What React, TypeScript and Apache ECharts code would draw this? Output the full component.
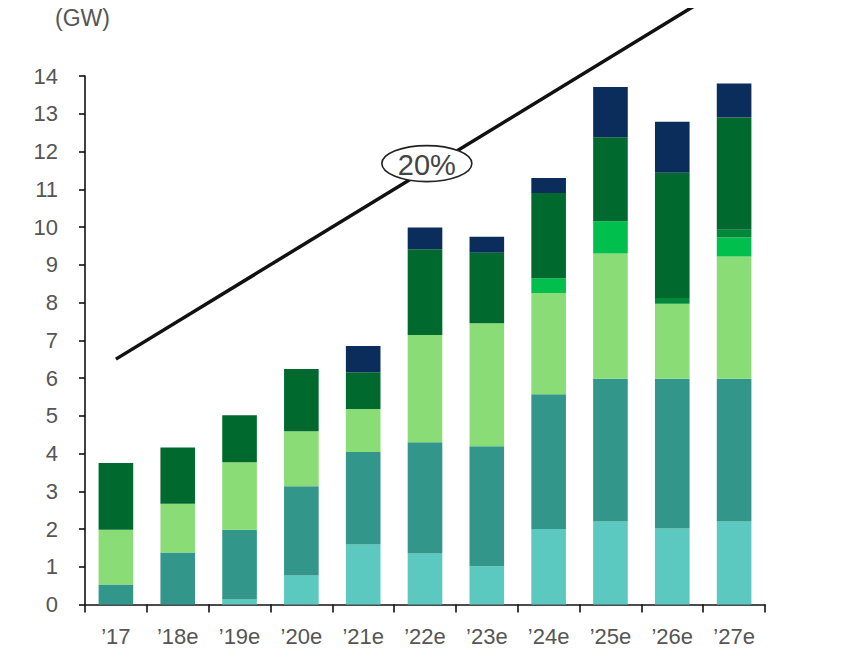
import React, { useEffect, useRef } from "react";
import * as echarts from "echarts";

const categories = ["’17", "’18e", "’19e", "’20e", "’21e", "’22e", "’23e", "’24e", "’25e", "’26e", "’27e"];
const lightTeal = [0, 0, 0.13, 0.77, 1.59, 1.35, 1.01, 2.0, 2.2, 2.01, 2.2];
const teal = [0.53, 1.38, 1.85, 2.36, 2.45, 2.95, 3.18, 3.57, 3.78, 3.97, 3.78];
const lightGreen = [1.45, 1.29, 1.79, 1.46, 1.14, 2.84, 3.26, 2.68, 3.32, 1.99, 3.24];
const brightGreen = [0, 0, 0, 0, 0, 0, 0, 0.39, 0.85, 0, 0.5];
const mediumGreen = [0, 0, 0, 0, 0, 0, 0, 0, 0, 0.15, 0.21];
const darkGreen = [1.77, 1.49, 1.24, 1.65, 0.97, 2.27, 1.87, 2.26, 2.23, 3.32, 2.97];
const navy = [0, 0, 0, 0, 0.7, 0.58, 0.42, 0.4, 1.33, 1.35, 0.9];

const seriesData = [lightTeal, teal, lightGreen, brightGreen, mediumGreen, darkGreen, navy];
const seriesColors = ["#5BC9BF", "#32978A", "#8ADC76", "#00BF4C", "#00893B", "#006A2E", "#0B2D5B"];

// trend annotation: [category index, value]
const trendStart = [0, 6.5];
const trendEnd = [9.8, 16.3];
const cagrLabel = "20%";
const cagrPos = [5.03, 11.68];
const unitLabel = "(GW)";

export default function App() {
  const ref = useRef<HTMLDivElement>(null);
  useEffect(() => {
    const chart = echarts.init(ref.current!, null, { renderer: "svg" });
    const font = "'Liberation Sans', Arial, sans-serif";
    chart.setOption({
      animation: false,
      backgroundColor: "#fff",
      grid: { left: 85, right: 93, top: 76, bottom: 52.5, containLabel: false },
      xAxis: {
        type: "category",
        data: categories,
        axisLine: { lineStyle: { color: "#111", width: 1.6 } },
        axisTick: { show: true, length: 8, lineStyle: { color: "#111", width: 1.6 } },
        axisLabel: { color: "#555", fontSize: 22, fontFamily: font, margin: 21 },
      },
      yAxis: {
        type: "value",
        min: 0,
        max: 14,
        interval: 1,
        splitLine: { show: false },
        axisLine: { show: true, lineStyle: { color: "#111", width: 1.6 } },
        axisTick: { show: true, length: 6, lineStyle: { color: "#111", width: 1.6 } },
        axisLabel: { color: "#555", fontSize: 22, fontFamily: font, margin: 27 },
      },
      series: seriesData.map((d, i) => ({
        type: "bar",
        stack: "total",
        data: d,
        barCategoryGap: "44%",
        itemStyle: { color: seriesColors[i] },
      })),
    });

    const toPx = (p: number[]) => {
      const a = chart.convertToPixel({ gridIndex: 0 }, [0, p[1]]) as number[];
      const b = chart.convertToPixel({ gridIndex: 0 }, [1, p[1]]) as number[];
      return [a[0] + p[0] * (b[0] - a[0]), a[1]];
    };
    const s = toPx(trendStart);
    const e = toPx(trendEnd);
    const c = toPx(cagrPos);
    chart.setOption({
      graphic: [
        {
          type: "line",
          shape: { x1: s[0], y1: s[1], x2: e[0], y2: e[1] },
          style: { stroke: "#111", lineWidth: 3.5 },
          z: 10,
        },
        {
          type: "ellipse",
          shape: { cx: c[0], cy: c[1], rx: 45, ry: 18 },
          style: { fill: "#fff", stroke: "#222", lineWidth: 1.6 },
          z: 11,
        },
        {
          type: "text",
          x: c[0],
          y: c[1] + 1,
          style: {
            text: cagrLabel,
            fontSize: 29,
            fontFamily: font,
            fill: "#444",
            align: "center",
            verticalAlign: "middle",
          },
          z: 12,
        },
        {
          type: "text",
          left: 55,
          top: 6,
          style: { text: unitLabel, fontSize: 23, fontFamily: font, fill: "#555" },
        },
      ],
    });
    return () => chart.dispose();
  }, []);
  return <div ref={ref} style={{ width: 858, height: 657, margin: -8 }} />;
}
